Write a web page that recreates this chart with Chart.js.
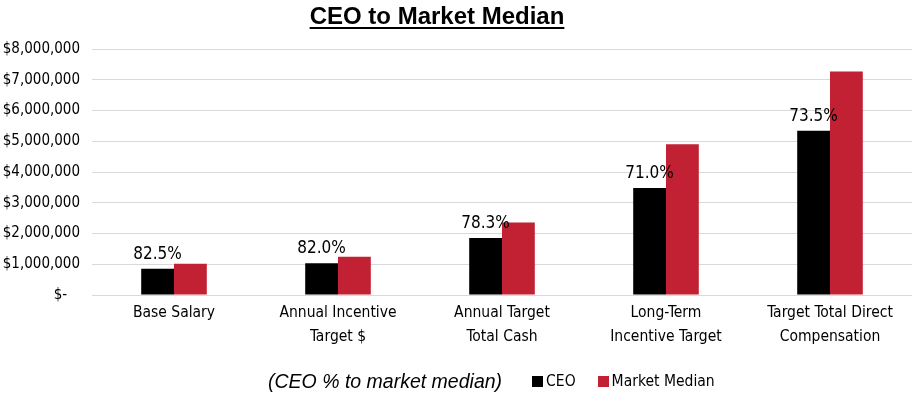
<!DOCTYPE html>
<html>
<head>
<meta charset="utf-8">
<script src="https://cdn.jsdelivr.net/npm/chart.js@4"></script>
<style>
  body { margin: 0; background: #fff; }
  #wrap { position: relative; width: 916px; height: 394px; }
  #title {
    position: absolute; left: 0; width: 874px; top: 2px; text-align: center;
    font: bold 24px "Liberation Sans", Arial, sans-serif; text-decoration: underline;
    text-decoration-thickness: 2px; text-underline-offset: 3px; color: #000;
  }
  #legend {
    position: absolute; left: 268px; top: 369px; height: 24px;
    display: flex; align-items: center; white-space: nowrap;
    font: 15.5px "DejaVu Sans Condensed", "Liberation Sans Narrow", sans-serif; color: #000;
  }
  #legend .note { font: italic 19.5px "Liberation Sans", Arial, sans-serif; margin-right: 30px; }
  #legend .item { display: flex; align-items: center; margin-right: 22px; }
  #legend .box { width: 11px; height: 11px; margin-right: 3px; }
</style>
</head>
<body>
<div id="wrap">
  <canvas id="myChart" width="916" height="394"></canvas>
  <div id="title">CEO to Market Median</div>
  <div id="legend"><span class="note">(CEO % to market median)</span></div>
</div>
<script>
const labels = [
  ["Base Salary"],
  ["Annual Incentive", "Target $"],
  ["Annual Target", "Total Cash"],
  ["Long-Term", "Incentive Target"],
  ["Target Total Direct", "Compensation"],
];
const ceo = [850000, 1030000, 1850000, 3480000, 5340000];
const market = [1020000, 1240000, 2360000, 4900000, 7270000];
const pctLabels = ["82.5%", "82.0%", "78.3%", "71.0%", "73.5%"];

const narrow = "'DejaVu Sans Condensed', 'Liberation Sans Narrow', sans-serif";

const pctPlugin = {
  id: "pctLabels",
  afterDatasetsDraw(chart) {
    const ctx = chart.ctx;
    const bars = chart.getDatasetMeta(0).data;
    ctx.save();
    ctx.font = "17px " + narrow;
    ctx.fillStyle = "#000";
    ctx.textAlign = "center";
    ctx.textBaseline = "alphabetic";
    bars.forEach((b, i) => {
      ctx.fillText(pctLabels[i], b.x, b.y - 10);
    });
    ctx.restore();
  },
};

const data = {
  labels: labels,
  datasets: [
    {
      label: "CEO",
      backgroundColor: "#000000",
      data: ceo,
      categoryPercentage: 0.4,
      barPercentage: 1.0,
    },
    {
      label: "Market Median",
      backgroundColor: "#C22033",
      data: market,
      categoryPercentage: 0.4,
      barPercentage: 1.0,
    },
  ],
};

const config = {
  type: "bar",
  data: data,
  options: {
    responsive: false,
    animation: false,
    layout: {
      padding: { top: 49, left: 0, right: 4, bottom: 0 },
    },
    plugins: {
      legend: { display: false },
      tooltip: { enabled: false },
    },
    scales: {
      x: {
        grid: { display: false, drawTicks: false },
        border: { display: false },
        ticks: {
          color: "#000",
          padding: 6,
          font: { family: narrow, size: 15.5, lineHeight: 1.55 },
          maxRotation: 0,
          autoSkip: false,
        },
        afterFit(scale) {
          scale.height = 99;
        },
      },
      y: {
        min: 0,
        max: 8000000,
        grid: { color: "#d9d9d9", drawTicks: false, lineWidth: 1 },
        border: { display: false },
        ticks: {
          stepSize: 1000000,
          color: "#000",
          padding: 12,
          font: { family: narrow, size: 15 },
          callback: (v) => (v === 0 ? "$-   " : "$" + v.toLocaleString("en-US")),
        },
        afterFit(scale) {
          scale.width = 92;
        },
      },
    },
  },
  plugins: [pctPlugin],
};

const myChart = new Chart(document.getElementById("myChart"), config);

// legend row built from the datasets
const legendEl = document.getElementById("legend");
data.datasets.forEach((ds) => {
  const item = document.createElement("span");
  item.className = "item";
  const box = document.createElement("span");
  box.className = "box";
  box.style.background = ds.backgroundColor;
  item.appendChild(box);
  item.appendChild(document.createTextNode(ds.label));
  legendEl.appendChild(item);
});
</script>
</body>
</html>
